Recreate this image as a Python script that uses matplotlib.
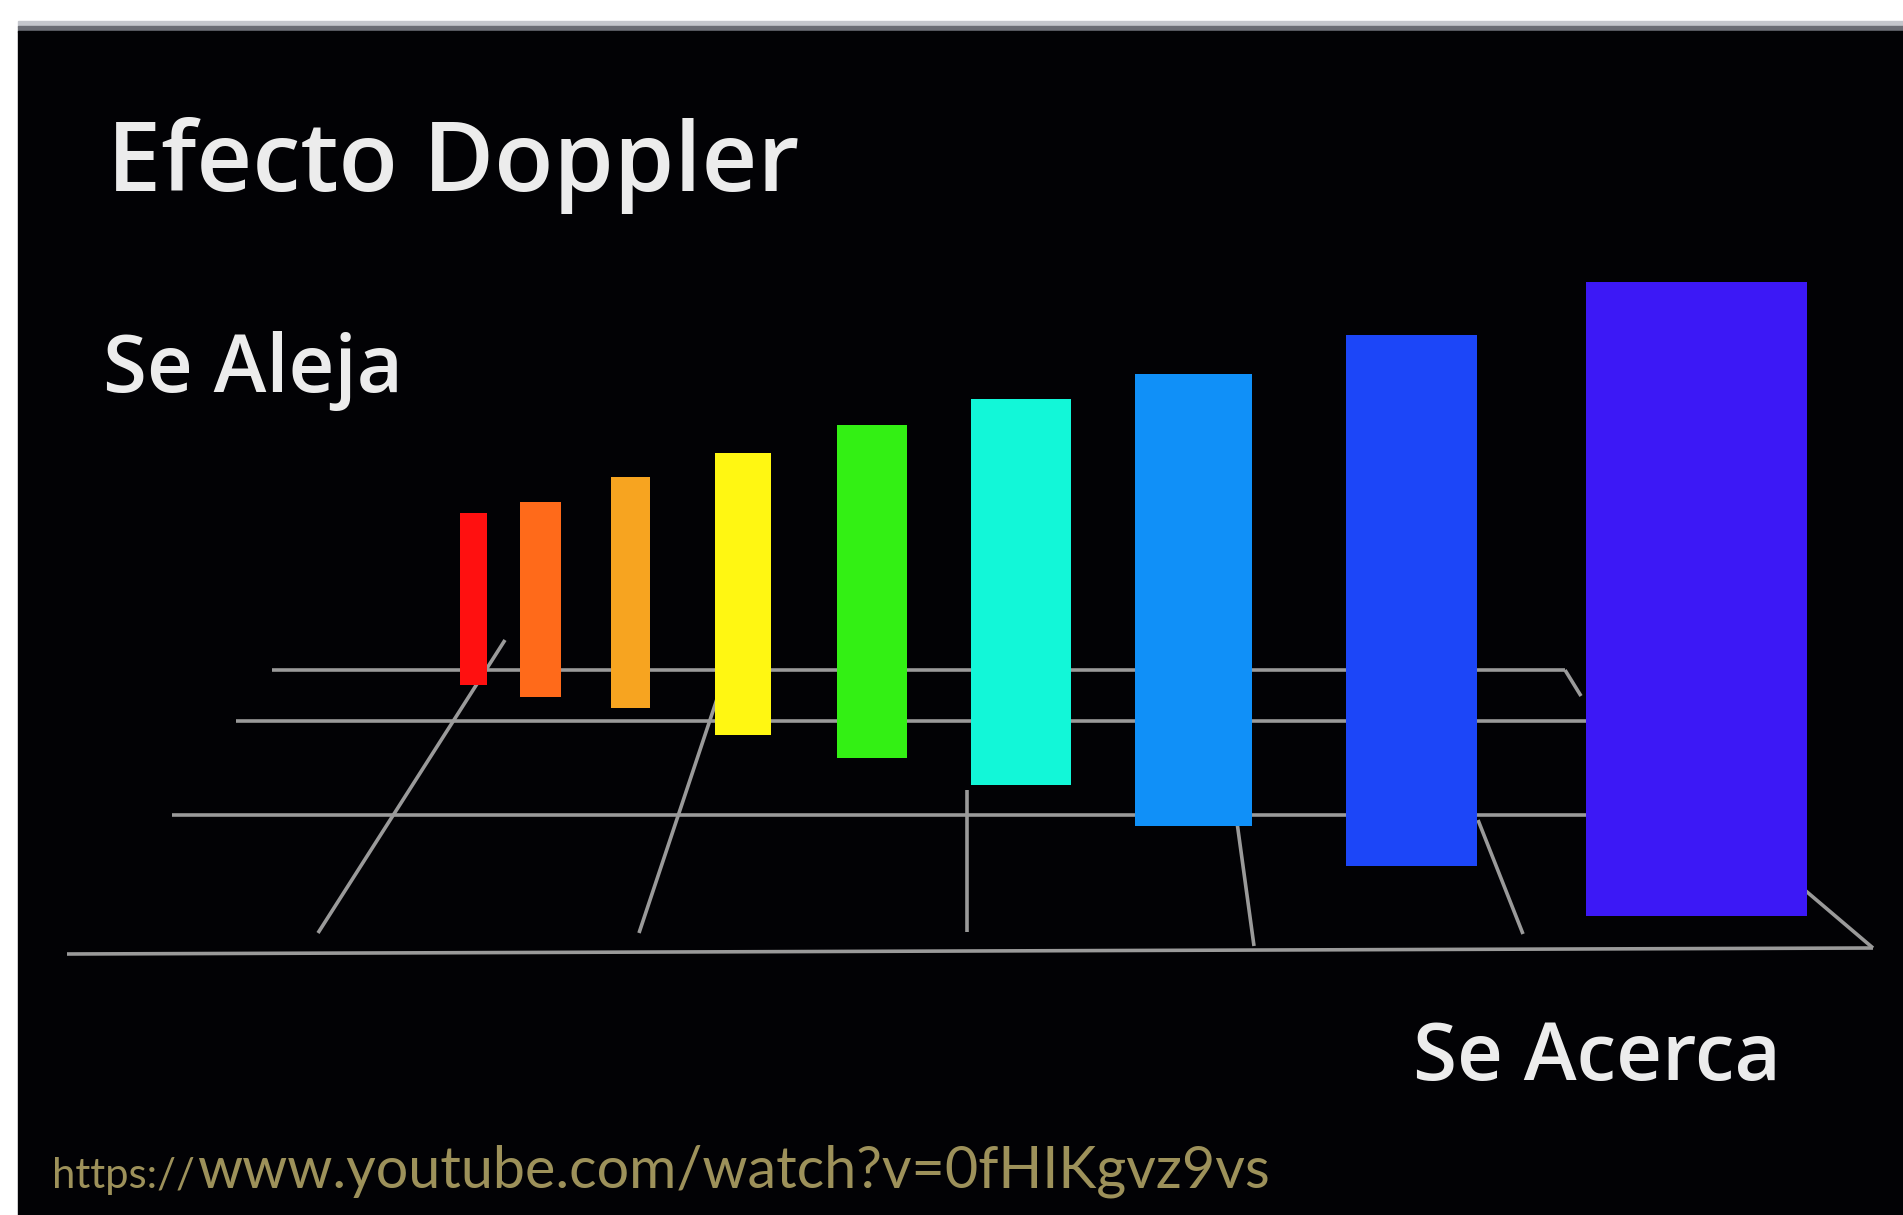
import matplotlib
matplotlib.use("Agg")
import matplotlib.pyplot as plt
from matplotlib.patches import Rectangle

# bars (pixel space of the original slide, y grows downwards)
bar_colors = ["#ff1010", "#ff6a1a", "#f7a420", "#fff712", "#33f014",
              "#12f7d8", "#1090f8", "#1c46f8", "#3c18f6"]
bar_left = [460, 520, 611, 715, 837, 971, 1135, 1346, 1586]
bar_right = [487, 561, 650, 771, 907, 1071, 1252, 1477, 1807]
bar_top = [513, 502, 477, 453, 425, 399, 374, 335, 282]
bar_bottom = [685, 697, 708, 735, 758, 785, 826, 866, 916]

# floor grid: horizontal rails and receding lines
rails_y = [670, 721, 815]
rails_x0 = [272, 236, 172]
rails_x1 = [1565, 1586, 1586]
front_line = ([67, 1873], [954, 948])
depth_lines = [
    ([318, 505], [933, 640]),
    ([639, 720], [933, 690]),
    ([967, 967], [932, 790]),
    ([1254, 1236], [946, 815]),
    ([1523, 1478], [934, 820]),
    ([1873, 1800], [948, 886]),
    ([1581, 1565], [696, 670]),
]

W, H = 1903, 1215
fig = plt.figure(figsize=(W / 100, H / 100), dpi=100, facecolor="white")
ax = fig.add_axes([0, 0, 1, 1])
ax.set_xlim(0, W)
ax.set_ylim(H, 0)
ax.axis("off")

# black slide with a soft gray top edge
ax.add_patch(Rectangle((18, 21), W - 18, 6, color="#c4c6cc", zorder=0))
ax.add_patch(Rectangle((18, 26), W - 18, 6, color="#6a6c74", zorder=0))
ax.add_patch(Rectangle((18, 31), W - 18, H - 31, color="#020205", zorder=0))

grid_kw = dict(color="#9a9a9a", lw=2.6, solid_capstyle="butt", zorder=1)
for y, x0, x1 in zip(rails_y, rails_x0, rails_x1):
    ax.plot([x0, x1], [y, y], **grid_kw)
ax.plot(*front_line, **grid_kw)
for xs, ys in depth_lines:
    ax.plot(xs, ys, **grid_kw)

widths = [r - l for l, r in zip(bar_left, bar_right)]
heights = [b - t for t, b in zip(bar_top, bar_bottom)]
centers = [(l + r) / 2 for l, r in zip(bar_left, bar_right)]
ax.bar(centers, heights, width=widths, bottom=bar_top, color=bar_colors,
       zorder=3)

renderer = fig.canvas.get_renderer()


def fit_text(x, y, s, width, **kw):
    t = ax.text(x, y, s, fontsize=40, ha="left", va="baseline", **kw)
    bb = t.get_window_extent(renderer=renderer)
    t.set_fontsize(40 * width / bb.width)
    return t


title_kw = dict(color="#ececec", family="Open Sans", fontweight="semibold",
                zorder=5)
fit_text(107, 191, "Efecto Doppler", 690, **title_kw)
fit_text(103, 392, "Se Aleja", 299, **title_kw)
fit_text(1413, 1080, "Se Acerca", 367, **title_kw)

url_kw = dict(color="#9d915a", family="Lato", zorder=5)
fit_text(52, 1188, "https://", 143, **url_kw)
fit_text(197, 1188, "www.youtube.com/watch?v=0fHIKgvz9vs", 1074, **url_kw)

fig.savefig("out.png", dpi=100, facecolor="white")
